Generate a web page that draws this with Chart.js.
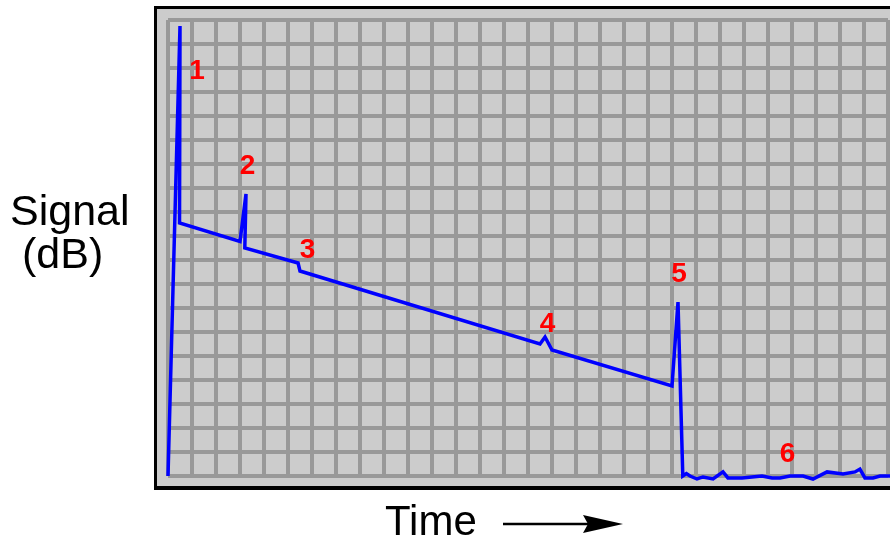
<!DOCTYPE html>
<html>
<head>
<meta charset="utf-8">
<script src="https://cdn.jsdelivr.net/npm/chart.js@4"></script>
<style>
  html, body { margin: 0; padding: 0; background: #ffffff; }
  #c { display: block; }
</style>
</head>
<body>
<canvas id="c" width="890" height="539"></canvas>
<script>
// Time positions (grid divisions) of the trace
const timeValues = [0, 0.5, 0.48, 3.0, 3.25, 3.2, 5.42, 5.5, 15.5, 15.71, 16.0, 21.0, 21.25, 21.45,
  21.6, 21.75, 22.04, 22.29, 22.71, 23.125, 23.33, 23.92, 24.33, 24.75, 25.17, 25.5, 25.92, 26.46,
  26.875, 27.46, 28.125, 28.625, 28.83, 29.04, 29.375, 29.67, 30.2];
// Signal level (grid divisions) of the trace
const signalValues = [0, 18.75, 10.54, 9.77, 11.75, 9.5, 8.875, 8.54, 5.5, 5.79, 5.25, 3.75, 7.25, 0.0,
  0.1, 0, -0.125, -0.04, -0.125, 0.17, -0.08, -0.08, -0.04, 0, -0.08, -0.08, 0, 0,
  -0.125, 0.17, 0.08, 0.17, 0.29, -0.08, -0.08, 0, 0];
// Event markers
const eventLabels = ['1', '2', '3', '4', '5', '6'];
const eventTimes = [1.21, 3.31, 5.81, 15.81, 21.29, 25.81];
const eventSignals = [16.92, 12.94, 9.44, 6.375, 8.46, 0.96];
const yAxisLines = ['Signal', '(dB)'];
const xAxisLabel = 'Time';

const points = timeValues.map((t, i) => ({ x: t, y: signalValues[i] }));

const framePlugin = {
  id: 'frame',
  beforeDraw(chart) {
    const ctx = chart.ctx;
    ctx.save();
    ctx.fillStyle = '#000000';
    ctx.fillRect(154, 6, 760, 484);
    ctx.fillStyle = '#cccccc';
    ctx.fillRect(157, 9, 760, 477);
    ctx.restore();
  },
  afterDraw(chart) {
    const ctx = chart.ctx;
    const xs = chart.scales.x, ys = chart.scales.y;
    ctx.save();
    // event numbers
    ctx.fillStyle = '#ff0000';
    ctx.font = 'bold 28px "Liberation Sans", Arial, sans-serif';
    ctx.textAlign = 'center';
    ctx.textBaseline = 'middle';
    eventLabels.forEach((lab, i) => {
      ctx.fillText(lab, xs.getPixelForValue(eventTimes[i]), ys.getPixelForValue(eventSignals[i]) + 1);
    });
    // axis labels
    ctx.fillStyle = '#000000';
    ctx.font = '43px "Liberation Sans", Arial, sans-serif';
    ctx.textAlign = 'left';
    ctx.textBaseline = 'alphabetic';
    ctx.fillText(yAxisLines[0], 10, 225);
    ctx.fillText(yAxisLines[1], 22, 268);
    ctx.font = '42px "Liberation Sans", Arial, sans-serif';
    ctx.fillText(xAxisLabel, 385, 535);
    // arrow
    ctx.strokeStyle = '#000000';
    ctx.lineWidth = 2.5;
    ctx.beginPath();
    ctx.moveTo(503, 524);
    ctx.lineTo(590, 524);
    ctx.stroke();
    ctx.beginPath();
    ctx.moveTo(583, 515);
    ctx.lineTo(623, 524);
    ctx.lineTo(583, 533);
    ctx.lineTo(588, 524);
    ctx.closePath();
    ctx.fill();
    ctx.restore();
  }
};

new Chart(document.getElementById('c'), {
  type: 'line',
  data: {
    datasets: [{
      data: points,
      borderColor: '#0000ff',
      borderWidth: 3.5,
      pointRadius: 0,
      tension: 0,
      fill: false,
      clip: false
    }]
  },
  options: {
    responsive: false,
    devicePixelRatio: 1,
    animation: false,
    events: [],
    layout: { padding: { left: 168, top: 20, right: 2, bottom: 63 } },
    plugins: { legend: { display: false }, tooltip: { enabled: false } },
    scales: {
      x: {
        type: 'linear', min: 0, max: 30,
        ticks: { display: false, stepSize: 1, autoSkip: false, maxTicksLimit: 100 },
        grid: { color: '#999999', lineWidth: 4, drawTicks: false },
        border: { display: false },
        afterFit(s) { s.height = 0; }
      },
      y: {
        type: 'linear', min: 0, max: 19,
        ticks: { display: false, stepSize: 1, autoSkip: false, maxTicksLimit: 100 },
        grid: { color: '#999999', lineWidth: 4, drawTicks: false },
        border: { display: false },
        afterFit(s) { s.width = 0; }
      }
    }
  },
  plugins: [framePlugin]
});
</script>
</body>
</html>
